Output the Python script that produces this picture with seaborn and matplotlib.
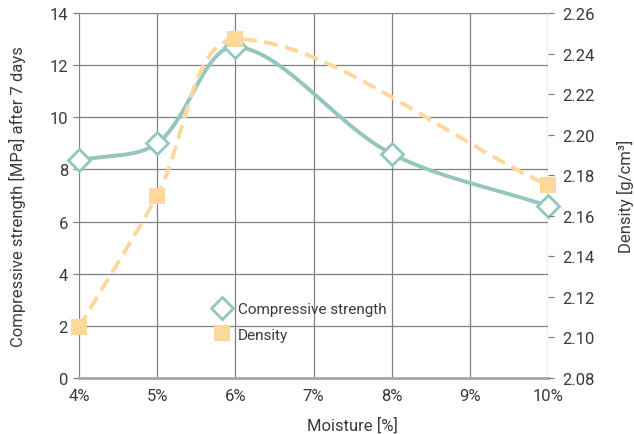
import numpy as np
import pandas as pd
import matplotlib
matplotlib.use("Agg")
import matplotlib.pyplot as plt
import seaborn as sns
from matplotlib.lines import Line2D

# ---- data ----
moisture = [4, 5, 6, 8, 10]
strength = [8.35, 9.0, 12.7, 8.6, 6.6]
density_moist = [4, 5, 6, 10]
density_vals = [2.105, 2.170, 2.247, 2.175]
x_ticks = [4, 5, 6, 7, 8, 9, 10]
x_ticklabels = ["4%", "5%", "6%", "7%", "8%", "9%", "10%"]
left_ticks = [0, 2, 4, 6, 8, 10, 12, 14]
right_ticks = [2.08, 2.10, 2.12, 2.14, 2.16, 2.18, 2.20, 2.22, 2.24, 2.26]

TEAL = "#93c6bf"
SAND = "#fdd89a"
GRID = "#808080"
TXT = "#3a3a3a"
FS = 12
PW, PH = 469.0, 365.0  # plot area in pixels (for smoothing in screen space)


def smooth(xs, ys, xr, yr, n=50):
    """Bezier smoothing (chord-length weighted Catmull-Rom) in screen space."""
    xs = (np.asarray(xs, float) - xr[0]) / (xr[1] - xr[0]) * PW
    ys = (np.asarray(ys, float) - yr[0]) / (yr[1] - yr[0]) * PH
    P = np.column_stack([xs, ys])
    m = len(P)
    out = []
    for i in range(m - 1):
        p0 = P[i - 1] if i > 0 else P[i]
        p1, p2 = P[i], P[i + 1]
        p3 = P[i + 2] if i + 2 < m else P[i + 1]
        d01 = np.linalg.norm(p1 - p0)
        d12 = np.linalg.norm(p2 - p1)
        d23 = np.linalg.norm(p3 - p2)
        b1 = p1 + (p2 - p0) * d12 / (3 * (d01 + d12))
        b2 = p2 - (p3 - p1) * d12 / (3 * (d12 + d23))
        t = np.linspace(0, 1, n)[:, None]
        seg = ((1 - t) ** 3) * p1 + 3 * ((1 - t) ** 2) * t * b1 + 3 * (1 - t) * t ** 2 * b2 + t ** 3 * p2
        out.append(seg if i == 0 else seg[1:])
    c = np.vstack(out)
    return c[:, 0] / PW * (xr[1] - xr[0]) + xr[0], c[:, 1] / PH * (yr[1] - yr[0]) + yr[0]


sns.set_theme(style="white")
plt.rcParams['font.family'] = ['Roboto', 'DejaVu Sans']

fig = plt.figure(figsize=(6.34, 4.35), dpi=100)
ax = fig.add_axes([79 / 634, 1 - 379 / 435, (548 - 79) / 634, (379 - 14) / 435])
ax2 = ax.twinx()

XR = (4, 10)
YL = (0, 14)
YR = (2.08, 2.26)

# strength curve
sx, sy = smooth(moisture, strength, XR, YL)
df_s = pd.DataFrame({"x": sx, "y": sy})
sns.lineplot(data=df_s, x="x", y="y", ax=ax, color=TEAL, lw=2.8, sort=False, zorder=3)

# density curve
dx, dy = smooth(density_moist, density_vals, XR, YR)
df_d = pd.DataFrame({"x": dx, "y": dy})
sns.lineplot(data=df_d, x="x", y="y", ax=ax2, color=SAND, lw=2.8, sort=False, zorder=3)
ax2.lines[-1].set_dashes([3.6, 1.9])

ax.plot(moisture, strength, ls="none", marker="D", ms=11, mfc="white", mec=TEAL,
        mew=2.0, zorder=5, clip_on=False)
ax2.plot(density_moist, density_vals, ls="none", marker="s", ms=11, mfc=SAND, mec=SAND,
         mew=0, zorder=6, clip_on=False)

ax.set_xlim(*XR)
ax.set_ylim(*YL)
ax2.set_ylim(*YR)
ax.set_xticks(x_ticks)
ax.set_xticklabels(x_ticklabels)
ax.set_yticks(left_ticks)
ax2.set_yticks(right_ticks)
ax2.set_yticklabels([f"{v:.2f}" for v in right_ticks])

ax.grid(True, color=GRID, lw=0.9)
ax2.grid(False)
for a in (ax, ax2):
    for s in a.spines.values():
        s.set_visible(False)
ax.spines["bottom"].set_visible(True)
ax.spines["bottom"].set_color("#a6a6a6")
ax.spines["bottom"].set_linewidth(2)
ax.tick_params(axis="both", length=4, width=0.9, color=GRID, labelsize=FS, labelcolor=TXT, pad=4)
ax.tick_params(axis="x", pad=3)
ax2.tick_params(axis="y", length=4, width=0.9, color=GRID, labelsize=FS, labelcolor=TXT, pad=6)

ax.set_xlabel("Moisture [%]", fontsize=FS, color=TXT)
ax.xaxis.set_label_coords((352 - 79) / 469, -0.105)
ax.set_ylabel("Compressive strength [MPa] after 7 days", fontsize=FS, color=TXT)
ax.yaxis.set_label_coords(-0.113, 0.5)
ax2.set_ylabel("Density [g/cm³]", fontsize=FS, color=TXT, rotation=90, va="top")
ax2.yaxis.set_label_coords((617 - 79) / 469, 0.5)

handles = [
    Line2D([], [], ls="none", marker="D", ms=11, mfc="white", mec=TEAL, mew=2.0),
    Line2D([], [], ls="none", marker="s", ms=11, mfc=SAND, mec=SAND, mew=0),
]
ax2.legend(handles, ["Compressive strength", "Density"], loc="center left",
           bbox_to_anchor=((205 - 79) / 469, (379 - 323) / 365), frameon=False,
           fontsize=11, handlelength=1.2, handletextpad=0.45, labelspacing=0.75,
           borderpad=0, labelcolor=TXT)

fig.savefig("out.png", dpi=100)
